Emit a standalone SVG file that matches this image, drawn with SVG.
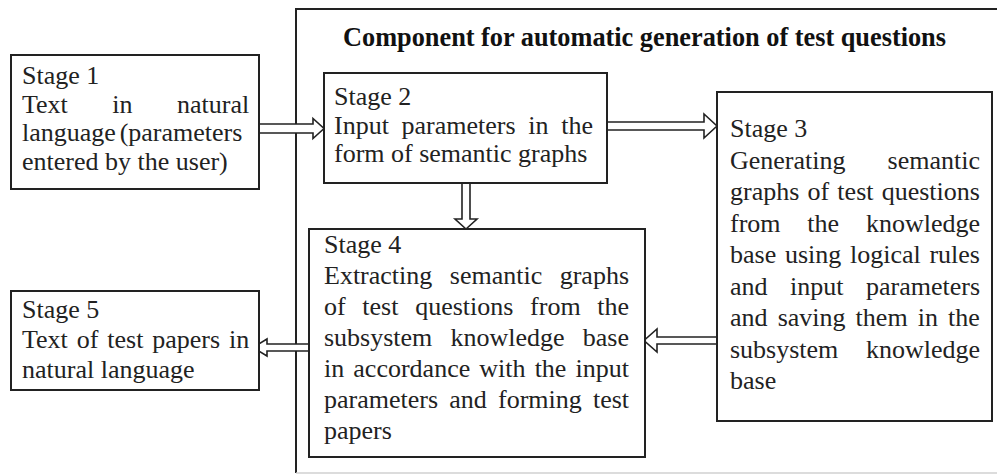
<svg xmlns="http://www.w3.org/2000/svg" width="997" height="475" viewBox="0 0 997 475">
  <style>
    .box { fill: #ffffff; stroke: #222222; stroke-width: 2; }
    .arrow { fill: #ffffff; stroke: #222222; stroke-width: 1.6; stroke-linejoin: miter; }
    .t { font-family: "Liberation Serif", "Times New Roman", serif; font-size: 26px; fill: #222222; }
    .title { font-family: "Liberation Serif", "Times New Roman", serif; font-size: 27px; font-weight: bold; fill: #111111; }
  </style>

  <rect width="997" height="475" fill="#ffffff"/>

  <!-- Component frame (open to the right edge) -->
  <g id="component">
    <path d="M1000,9 H296 V473" fill="none" stroke="#222222" stroke-width="2"/>
    <line x1="296" y1="473" x2="997" y2="473" stroke="#d0d0d0" stroke-width="1.5"/>
    <text class="title" x="343" y="46" textLength="603" lengthAdjust="spacingAndGlyphs">Component for automatic generation of test questions</text>
  </g>

  <!-- Connectors -->
  <g id="connectors">
    <!-- Stage 1 -> Stage 2 -->
    <path class="arrow" d="M259,124 H313 V118.5 L324,128.5 L313,138.5 V133 H259"/>
    <!-- Stage 2 -> Stage 3 -->
    <path class="arrow" d="M607,122 H704 V114 L717,126 L704,138 V130 H607"/>
    <!-- Stage 2 -> Stage 4 -->
    <path class="arrow" d="M462,183 V219 H455 L466,229 L477,219 H470 V183"/>
    <!-- Stage 3 -> Stage 4 -->
    <path class="arrow" d="M717,337 H657 V329 L644,340.5 L657,352 V344 H717"/>
    <!-- Stage 4 -> Stage 5 -->
    <path class="arrow" d="M309,344 H267 V339 L253,347.5 L267,356 V351 H309"/>
  </g>

  <g id="stage1">
    <rect class="box" x="11" y="55" width="248" height="134"/>
    <text class="t" x="22" y="84">Stage 1</text>
    <text class="t" x="22" y="112.5" word-spacing="38">Text in natural</text>
    <text class="t" x="22" y="141" word-spacing="-2.7">language (parameters</text>
    <text class="t" x="22" y="169.5">entered by the user)</text>
  </g>

  <g id="stage2">
    <rect class="box" x="324" y="73" width="283" height="110"/>
    <text class="t" x="334" y="105">Stage 2</text>
    <text class="t" x="334" y="133.5" word-spacing="6.2">Input parameters in the</text>
    <text class="t" x="334" y="162">form of semantic graphs</text>
  </g>

  <g id="stage3">
    <rect class="box" x="717" y="92" width="275" height="329"/>
    <text class="t" x="730" y="137">Stage 3</text>
    <text class="t" x="730" y="168.5" word-spacing="35.6">Generating semantic</text>
    <text class="t" x="730" y="200" word-spacing="1.7">graphs of test questions</text>
    <text class="t" x="730" y="231.5" word-spacing="20.3">from the knowledge</text>
    <text class="t" x="730" y="263" word-spacing="2.2">base using logical rules</text>
    <text class="t" x="730" y="294.5" word-spacing="16">and input parameters</text>
    <text class="t" x="730" y="326" word-spacing="3.6">and saving them in the</text>
    <text class="t" x="730" y="357.5" word-spacing="21.1">subsystem knowledge</text>
    <text class="t" x="730" y="389">base</text>
  </g>

  <g id="stage4">
    <rect class="box" x="309" y="229" width="336" height="228"/>
    <text class="t" x="324" y="253">Stage 4</text>
    <text class="t" x="324" y="284" word-spacing="11">Extracting semantic graphs</text>
    <text class="t" x="324" y="315" word-spacing="10.2">of test questions from the</text>
    <text class="t" x="324" y="346" word-spacing="11.7">subsystem knowledge base</text>
    <text class="t" x="324" y="377" word-spacing="2.6">in accordance with the input</text>
    <text class="t" x="324" y="408" word-spacing="4.7">parameters and forming test</text>
    <text class="t" x="324" y="439">papers</text>
  </g>

  <g id="stage5">
    <rect class="box" x="11" y="291" width="248" height="99"/>
    <text class="t" x="22" y="318">Stage 5</text>
    <text class="t" x="22" y="348" word-spacing="2.4">Text of test papers in</text>
    <text class="t" x="22" y="378">natural language</text>
  </g>
</svg>
